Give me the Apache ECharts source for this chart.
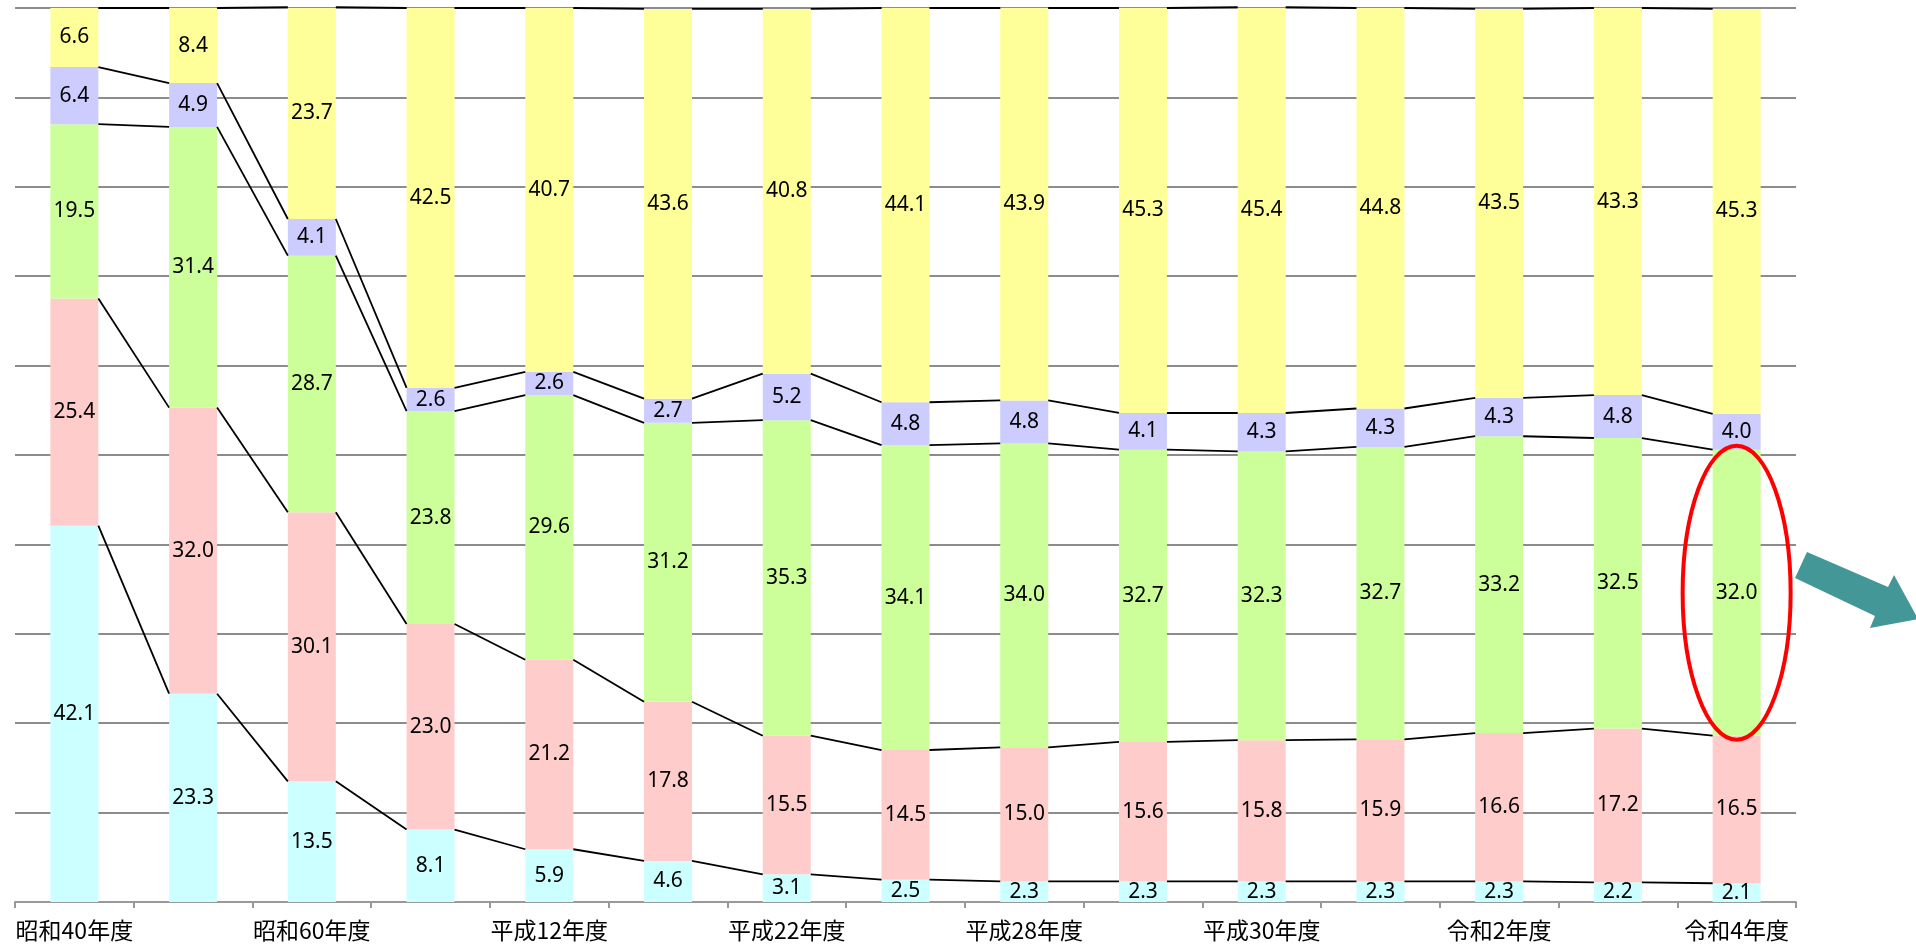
<!DOCTYPE html>
<html>
<head>
<meta charset="utf-8">
<script src="https://cdn.jsdelivr.net/npm/echarts@6/dist/echarts.min.js"></script>
<style>
  html, body { margin: 0; padding: 0; background: #ffffff; }
  #chart { width: 1916px; height: 948px; }
</style>
</head>
<body>
<div id="chart"></div>
<script>
// Fiscal years (only every other one carries a visible label)
const years = [
  '昭和40年度', '昭和50年度', '昭和60年度', '平成2年度', '平成12年度',
  '平成17年度', '平成22年度', '平成27年度', '平成28年度', '平成29年度',
  '平成30年度', '令和元年度', '令和2年度', '令和3年度', '令和4年度'
];

// Shares (%) per fiscal year, stacked bottom to top
const shareCyan   = [42.1, 23.3, 13.5, 8.1, 5.9, 4.6, 3.1, 2.5, 2.3, 2.3, 2.3, 2.3, 2.3, 2.2, 2.1];
const sharePink   = [25.4, 32.0, 30.1, 23.0, 21.2, 17.8, 15.5, 14.5, 15.0, 15.6, 15.8, 15.9, 16.6, 17.2, 16.5];
const shareGreen  = [19.5, 31.4, 28.7, 23.8, 29.6, 31.2, 35.3, 34.1, 34.0, 32.7, 32.3, 32.7, 33.2, 32.5, 32.0];
const sharePurple = [6.4, 4.9, 4.1, 2.6, 2.6, 2.7, 5.2, 4.8, 4.8, 4.1, 4.3, 4.3, 4.3, 4.8, 4.0];
const shareYellow = [6.6, 8.4, 23.7, 42.5, 40.7, 43.6, 40.8, 44.1, 43.9, 45.3, 45.4, 44.8, 43.5, 43.3, 45.3];

const stackOrder = [shareCyan, sharePink, shareGreen, sharePurple, shareYellow];
const stackColors = ['#ccffff', '#ffcccc', '#ccff99', '#ccccff', '#ffff99'];

const BAR_WIDTH = 48;
const LABEL_FONT = 'Noto Sans, "Noto Sans CJK JP", sans-serif';

// running totals: cumulative[k][i] = top of layer k in year i
const cumulative = stackOrder.map((_, k) =>
  years.map((__, i) => {
    let s = 0;
    for (let j = 0; j <= k; j++) s += stackOrder[j][i];
    return s;
  })
);

const barSeries = stackOrder.map((arr, k) => ({
  type: 'bar',
  stack: 'share',
  barWidth: BAR_WIDTH,
  data: arr,
  itemStyle: { color: stackColors[k] },
  label: {
    show: true,
    position: 'inside',
    color: '#000',
    fontFamily: LABEL_FONT,
    fontSize: 21,
    formatter: p => p.value.toFixed(1)
  },
  emphasis: { disabled: true },
  z: 2
}));

// connector lines from the right edge of each bar to the left edge of the next
const connectorSeries = {
  type: 'custom',
  data: years.slice(0, -1).map((_, i) => i),
  renderItem: (params, api) => {
    const i = api.value(0);
    const half = BAR_WIDTH / 2;
    const children = cumulative.map(level => {
      const a = api.coord([i, level[i]]);
      const b = api.coord([i + 1, level[i + 1]]);
      return {
        type: 'line',
        shape: { x1: a[0] + half, y1: a[1], x2: b[0] - half, y2: b[1] },
        style: { stroke: '#000', lineWidth: 1.8 }
      };
    });
    return { type: 'group', children };
  },
  silent: true,
  z: 3
};

// red ring around the latest green segment
const last = years.length - 1;
const highlightSeries = {
  type: 'custom',
  data: [[last, cumulative[1][last], cumulative[2][last]]],
  renderItem: (params, api) => {
    const idx = api.value(0);
    const lo = api.coord([idx, api.value(1)]);
    const hi = api.coord([idx, api.value(2)]);
    const cy = (lo[1] + hi[1]) / 2;
    const ry = (lo[1] - hi[1]) / 2 + 4;
    return {
      type: 'ellipse',
      shape: { cx: lo[0], cy: cy, rx: 54, ry: ry },
      style: { fill: 'none', stroke: '#ff0000', lineWidth: 4 }
    };
  },
  silent: true,
  z: 5
};

const chart = echarts.init(document.getElementById('chart'), null, { renderer: 'canvas' });
chart.setOption({
  animation: false,
  backgroundColor: '#ffffff',
  grid: { left: 15, right: 120, top: 8, bottom: 46, containLabel: false },
  xAxis: {
    type: 'category',
    data: years,
    boundaryGap: true,
    axisLine: { lineStyle: { color: '#999999', width: 2 } },
    axisTick: { show: true, interval: 0, length: 6, lineStyle: { color: '#999999', width: 2 } },
    axisLabel: {
      interval: 1,
      margin: 17,
      color: '#000',
      fontSize: 23,
      fontFamily: '"Noto Sans CJK JP", sans-serif'
    }
  },
  yAxis: {
    type: 'value',
    min: 0,
    max: 100,
    interval: 10,
    axisLine: { show: false },
    axisTick: { show: false },
    axisLabel: { show: false },
    splitLine: { lineStyle: { color: '#8c8c8c', width: 2 } }
  },
  series: [...barSeries, connectorSeries, highlightSeries],
  graphic: [{
    type: 'polygon',
    shape: {
      points: [[1807, 552], [1888, 587], [1894, 575], [1918, 619], [1870, 628], [1875, 616], [1795, 578]]
    },
    style: { fill: '#449797' },
    z: 10
  }]
});
</script>
</body>
</html>
